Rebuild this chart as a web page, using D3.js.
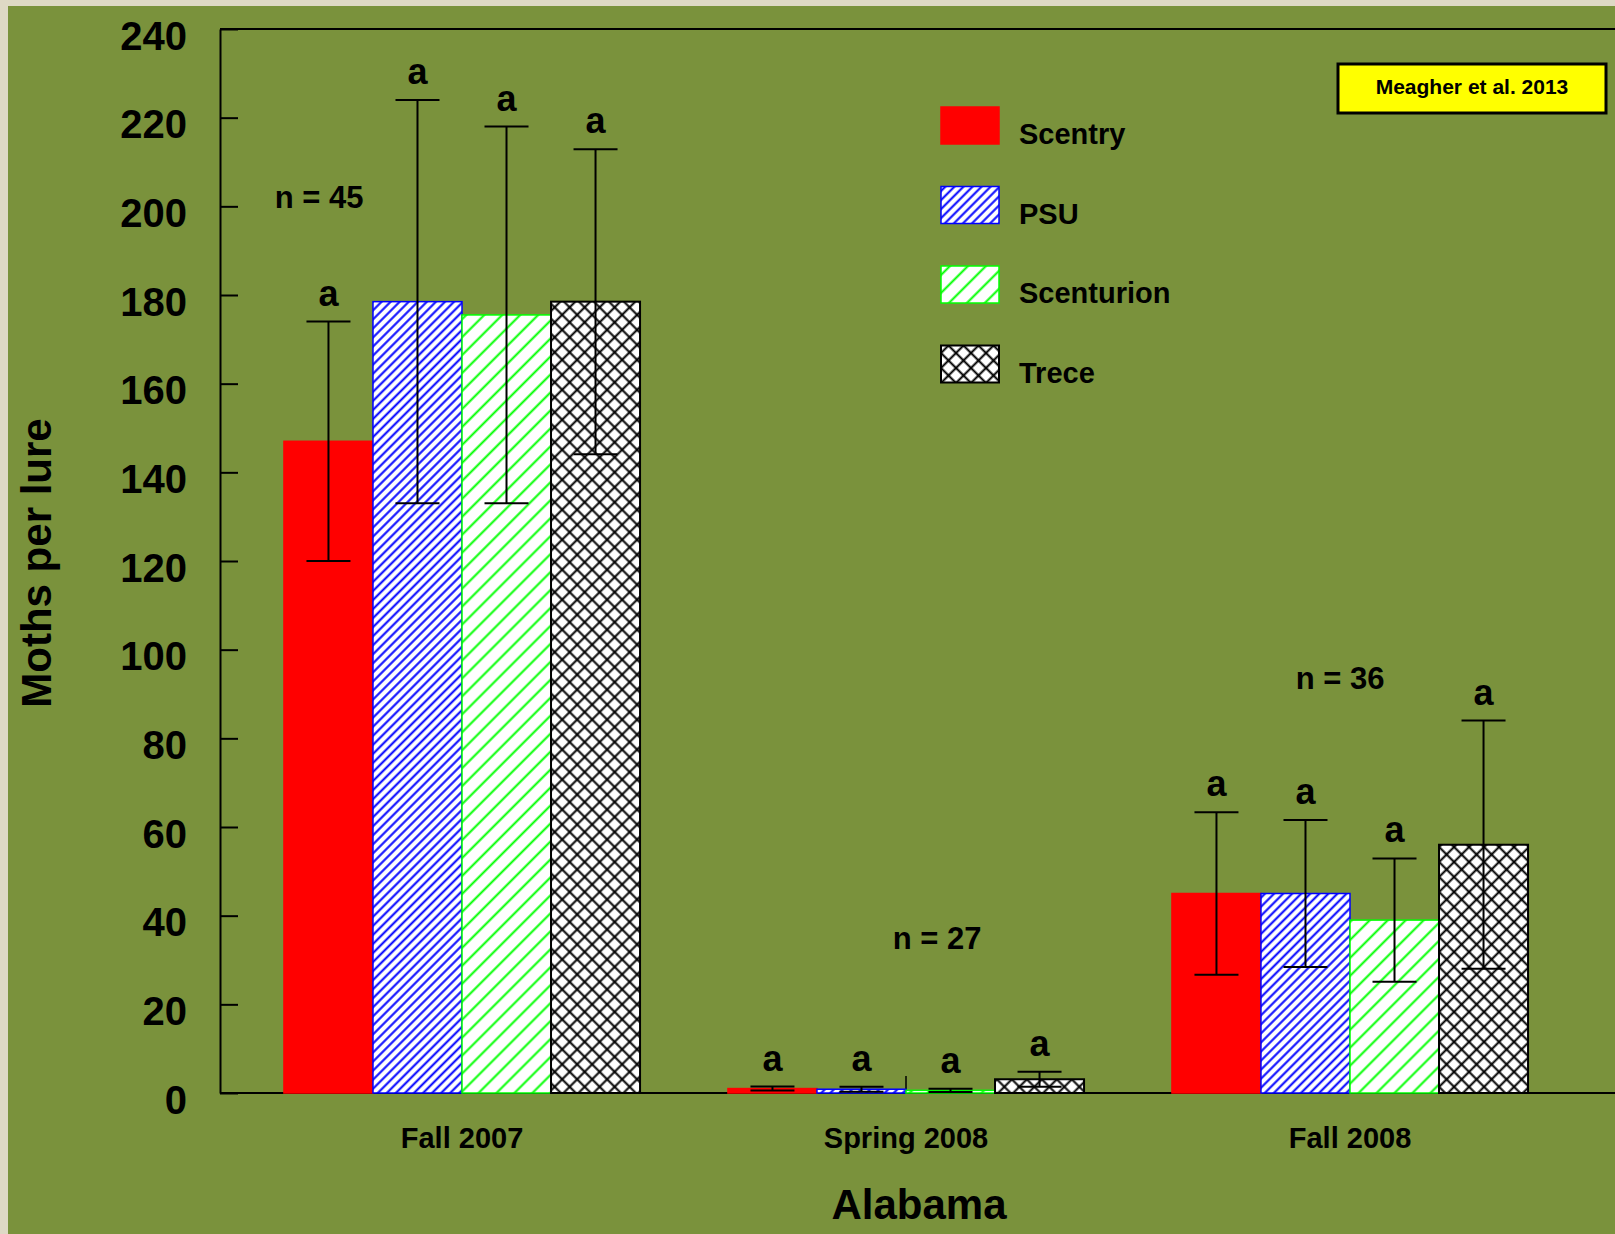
<!DOCTYPE html>
<html>
<head>
<meta charset="utf-8">
<script src="https://cdn.jsdelivr.net/npm/d3@7/dist/d3.min.js"></script>
<style>
  html, body { margin: 0; padding: 0; background: #ded9c5; }
  svg { display: block; }
  text { font-family: "Liberation Sans", Arial, sans-serif; font-weight: bold; fill: #000; }
</style>
</head>
<body>
<script>
// Moths caught per lure type, Alabama trapping seasons
const seasons = ["Fall 2007", "Spring 2008", "Fall 2008"];
const lures = ["Scentry", "PSU", "Scenturion", "Trece"];

// mean moths per lure, one entry per season
const scentryMean    = [147.0, 1.0, 45.0];
const psuMean        = [178.5, 0.85, 45.0];
const scenturionMean = [175.5, 0.6, 39.0];
const treceMean      = [178.5, 3.1, 56.0];

// standard error, one entry per season
const scentryErr    = [27.0, 0.45, 18.3];
const psuErr        = [45.5, 0.55, 16.6];
const scenturionErr = [42.5, 0.35, 13.9];
const treceErr      = [34.4, 1.7, 28.0];

// mean-separation letters
const scentryLetters    = ["a", "a", "a"];
const psuLetters        = ["a", "a", "a"];
const scenturionLetters = ["a", "a", "a"];
const treceLetters      = ["a", "a", "a"];

// sample sizes per season
const sampleSizes = [45, 27, 36];

const yTicks = [0, 20, 40, 60, 80, 100, 120, 140, 160, 180, 200, 220, 240];

const means = [scentryMean, psuMean, scenturionMean, treceMean];
const errs = [scentryErr, psuErr, scenturionErr, treceErr];
const letters = [scentryLetters, psuLetters, scenturionLetters, treceLetters];

const rows = [];
seasons.forEach((s, si) => {
  lures.forEach((l, li) => {
    rows.push({ season: s, lure: l, mean: means[li][si], err: errs[li][si], letter: letters[li][si] });
  });
});

// ---- layout ----
const W = 1615, H = 1234;
const axisLeft = 220, axisTop = 29, axisBottom = 1093;

const svg = d3.select("body").append("svg").attr("width", W).attr("height", H);

const defs = svg.append("defs");
function hatch(id, spacing, color, width, cross) {
  const p = defs.append("pattern")
    .attr("id", id).attr("patternUnits", "userSpaceOnUse")
    .attr("width", spacing).attr("height", spacing)
    .attr("patternTransform", "rotate(45)");
  p.append("rect").attr("width", spacing).attr("height", spacing).attr("fill", "#fff");
  p.append("line").attr("x1", spacing / 2).attr("x2", spacing / 2).attr("y1", -1).attr("y2", spacing + 1)
    .attr("stroke", color).attr("stroke-width", width);
  if (cross) {
    p.append("line").attr("y1", spacing / 2).attr("y2", spacing / 2).attr("x1", -1).attr("x2", spacing + 1)
      .attr("stroke", color).attr("stroke-width", width);
  }
}
hatch("hatch-psu", 6.4, "#0000ff", 2.0, false);
hatch("hatch-scenturion", 12.7, "#00ff00", 2.0, false);
hatch("hatch-trece", 10.6, "#000000", 2.0, true);

const fills = { Scentry: "#ff0000", PSU: "url(#hatch-psu)", Scenturion: "url(#hatch-scenturion)", Trece: "url(#hatch-trece)" };
const strokes = { Scentry: "#ff0000", PSU: "#0000ff", Scenturion: "#00ff00", Trece: "#000000" };

// olive panel
svg.append("rect").attr("x", 8).attr("y", 6).attr("width", W - 8).attr("height", H - 6).attr("fill", "#7a923c");

const y = d3.scaleLinear().domain([0, 240]).range([axisBottom, axisTop]);
const x0 = d3.scaleBand().domain(seasons).range([240, 1572]).paddingInner(0.198).paddingOuter(0.099);
const x1 = d3.scaleBand().domain(lures).range([0, x0.bandwidth()]);

// frame lines
svg.append("line").attr("x1", axisLeft).attr("x2", W).attr("y1", axisTop).attr("y2", axisTop)
  .attr("stroke", "#000").attr("stroke-width", 2);

// y axis with inward ticks
const yAxis = svg.append("g").attr("transform", `translate(${axisLeft},0)`)
  .call(d3.axisLeft(y).tickValues(yTicks).tickSize(-18).tickSizeOuter(0).tickPadding(0));
yAxis.select(".domain").attr("stroke", "#000").attr("stroke-width", 2);
yAxis.selectAll(".tick line").attr("stroke", "#000").attr("stroke-width", 2);
yAxis.selectAll(".tick text")
  .attr("x", -33).attr("dy", 20).attr("text-anchor", "end")
  .style("font-size", "40px").style("font-family", "'Liberation Sans', Arial, sans-serif").style("font-weight", "bold");

// x axis with inward ticks at season centres
const xAxis = svg.append("g").attr("transform", `translate(0,${axisBottom})`)
  .call(d3.axisBottom(x0).tickSize(-17).tickSizeOuter(0).tickPadding(0));
xAxis.select(".domain").attr("d", `M${axisLeft},0H${W}`).attr("stroke", "#000").attr("stroke-width", 2);
xAxis.selectAll(".tick line").attr("stroke", "#000").attr("stroke-width", 1.5);
xAxis.selectAll(".tick text")
  .attr("y", 55).attr("dy", 0)
  .style("font-size", "29px").style("font-family", "'Liberation Sans', Arial, sans-serif").style("font-weight", "bold");

// bars
const bars = svg.append("g");
bars.selectAll("rect").data(rows).join("rect")
  .attr("x", d => x0(d.season) + x1(d.lure))
  .attr("y", d => y(d.mean))
  .attr("width", x1.bandwidth())
  .attr("height", d => y(0) - y(d.mean))
  .attr("fill", d => fills[d.lure])
  .attr("stroke", d => strokes[d.lure])
  .attr("stroke-width", d => d.lure === "Trece" ? 2 : 1.5);

// error bars
const capHalf = 22;
const eb = svg.append("g").attr("stroke", "#000").attr("stroke-width", 2);
rows.forEach(d => {
  const cx = x0(d.season) + x1(d.lure) + x1.bandwidth() / 2;
  const top = y(d.mean + d.err), bot = y(Math.max(0, d.mean - d.err));
  eb.append("line").attr("x1", cx).attr("x2", cx).attr("y1", top).attr("y2", bot);
  eb.append("line").attr("x1", cx - capHalf).attr("x2", cx + capHalf).attr("y1", top).attr("y2", top);
  eb.append("line").attr("x1", cx - capHalf).attr("x2", cx + capHalf).attr("y1", bot).attr("y2", bot);
});

// letters above error bars
svg.append("g").selectAll("text").data(rows).join("text")
  .attr("x", d => x0(d.season) + x1(d.lure) + x1.bandwidth() / 2)
  .attr("y", d => y(d.mean + d.err) - 16)
  .attr("text-anchor", "middle")
  .style("font-size", "36px")
  .text(d => d.letter);

// sample size notes (offset from season centre, height in axis units)
const nOffsetX = [-143, 31, -10];
const nAtValue = [199.6, 32.4, 91.2];
svg.append("g").selectAll("text").data(sampleSizes).join("text")
  .attr("x", (n, i) => x0(seasons[i]) + x0.bandwidth() / 2 + nOffsetX[i])
  .attr("y", (n, i) => y(nAtValue[i]))
  .attr("text-anchor", "middle")
  .style("font-size", "31px")
  .text(n => `n = ${n}`);

// legend
const legend = svg.append("g").attr("transform", "translate(941,107)");
lures.forEach((l, i) => {
  const g = legend.append("g").attr("transform", `translate(0,${i * 79.5})`);
  g.append("rect").attr("width", 58).attr("height", 37)
    .attr("fill", fills[l]).attr("stroke", strokes[l]).attr("stroke-width", l === "Trece" ? 2 : 1.5);
  g.append("text").attr("x", 78).attr("y", 37).style("font-size", "29px").text(l);
});

// citation box
svg.append("rect").attr("x", 1338).attr("y", 64).attr("width", 268).attr("height", 49)
  .attr("fill", "#ffff00").attr("stroke", "#000").attr("stroke-width", 3);
svg.append("text").attr("x", 1472).attr("y", 94).attr("text-anchor", "middle")
  .style("font-size", "21px").text("Meagher et al. 2013");

// axis titles
svg.append("text").attr("x", 919).attr("y", 1219).attr("text-anchor", "middle")
  .style("font-size", "42px").text("Alabama");
svg.append("text").attr("transform", "translate(51,563) rotate(-90)").attr("text-anchor", "middle")
  .style("font-size", "42px").text("Moths per lure");
</script>
</body>
</html>
